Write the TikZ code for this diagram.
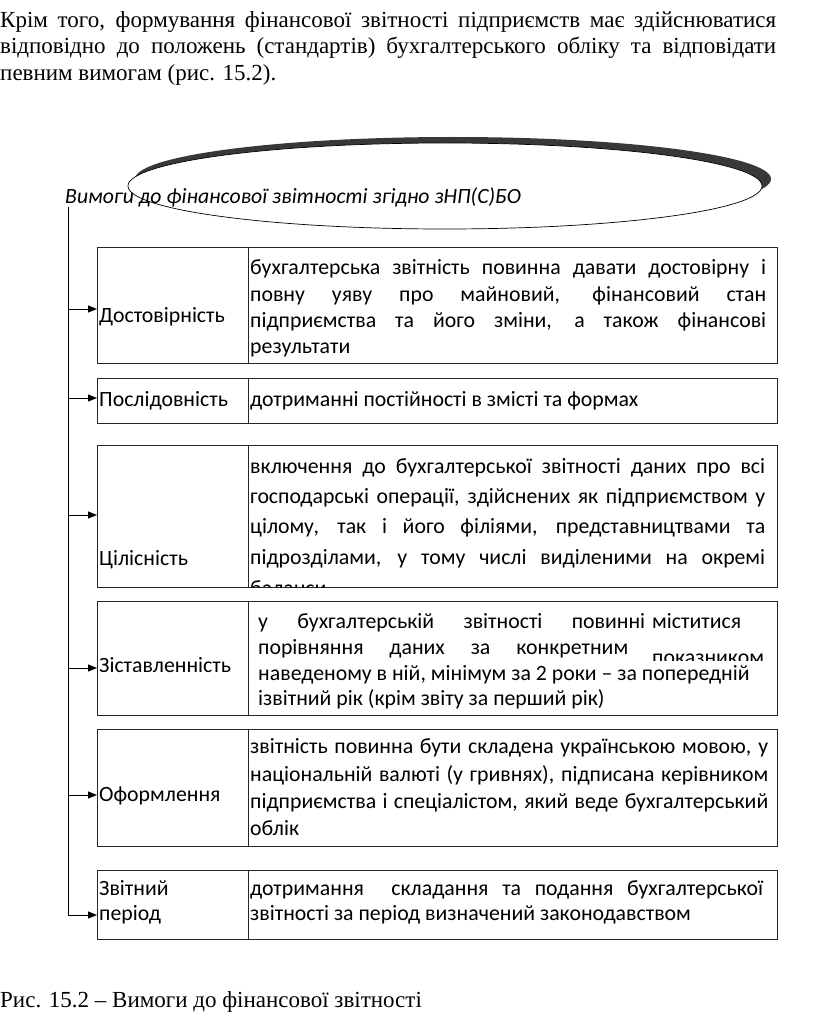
\documentclass[tikz,border=0pt]{standalone}
\usepackage{fontspec}
\setmainfont{Liberation Serif}
\newfontfamily\calfont{Carlito}
\usetikzlibrary{arrows.meta,shapes.geometric}
\newcommand\jline[2]{\makebox[#1][s]{#2}}
\begin{document}
\begin{tikzpicture}[x=1pt,y=-1pt,
  box/.style={draw=black!85,line width=1pt,inner sep=0,anchor=north west},
  lbl/.style={anchor=base west,inner sep=0,font=\calfont\fontsize{21.8}{24}\selectfont},
  para/.style={anchor=base west,inner sep=0,font=\fontsize{23}{26}\selectfont},
  arr/.style={-{Triangle[length=9pt,width=7pt]},line width=1pt},
  spine/.style={line width=1pt}]
\useasboundingbox (0,0) rectangle (816,1019);
% top paragraph
\node[para] (p1) at (0,28) {\jline{776pt}{Крім того, формування фінансової звітності підприємств має здійснюватися}};
\node[para] (p2) at (0,54) {\jline{776pt}{відповідно до положень (стандартів) бухгалтерського обліку та відповідати}};
\node[para] (p3) at (0,81) {певним вимогам (рис. 15.2).};
% ellipse
\fill[black!78] (453,179) ellipse [x radius=318, y radius=42];
\node[draw=black,fill=white,ellipse,line width=0.7pt,minimum width=634,minimum height=86,inner sep=0] (ell) at (445,186) {};
\node[lbl,font=\calfont\itshape\fontsize{21.7}{24}\selectfont] (title) at (65,203) {Вимоги до фінансової звітності згідно зНП(С)БО};
% boxes
\node[box,minimum width=151,minimum height=116] (L1) at (97,247) {};
\node[box,minimum width=529,minimum height=116] (R1) at (248,247) {};
\node[box,minimum width=151,minimum height=45] (L2) at (97,378) {};
\node[box,minimum width=529,minimum height=45] (R2) at (248,378) {};
\node[box,minimum width=151,minimum height=142] (L3) at (97,445) {};
\node[box,minimum width=529,minimum height=142] (R3) at (248,445) {};
\node[box,minimum width=151,minimum height=114] (L4) at (97,601) {};
\node[box,minimum width=529,minimum height=114] (R4) at (248,601) {};
\node[box,minimum width=151,minimum height=117] (L5) at (97,729) {};
\node[box,minimum width=529,minimum height=117] (R5) at (248,729) {};
\node[box,minimum width=151,minimum height=69] (L6) at (97,870) {};
\node[box,minimum width=529,minimum height=69] (R6) at (248,870) {};
% spine and arrows
\coordinate (top) at (68,207);
\coordinate (s1) at (68,309);
\coordinate (s2) at (68,398);
\coordinate (s3) at (68,515);
\coordinate (s4) at (68,668);
\coordinate (s5) at (68,795);
\coordinate (s6) at (68,915);
\draw[spine] (top) -- (s6);
\draw[arr] (s1) -- (s1 -| L1.west);
\draw[arr] (s2) -- (s2 -| L2.west);
\draw[arr] (s3) -- (s3 -| L3.west);
\draw[arr] (s4) -- (s4 -| L4.west);
\draw[arr] (s5) -- (s5 -| L5.west);
\draw[arr] (s6) -- (s6 -| L6.west);
% left labels
\node[lbl] (n1) at (99,322) {Достовірність};
\node[lbl] (n2) at (99,406) {Послідовність};
\node[lbl] (n3) at (99,565) {Цілісність};
\node[lbl] (n4) at (99,672) {Зіставленність};
\node[lbl] (n5) at (99,801) {Оформлення};
\node[lbl] (n6a) at (99,895) {Звітний};
\node[lbl] (n6b) at (99,920) {період};
% row 1
\node[lbl] (r1a) at (250,274) {\jline{516pt}{бухгалтерська звітність повинна давати достовірну і}};
\node[lbl] (r1b) at (250,301) {\jline{516pt}{повну уяву про майновий, фінансовий стан}};
\node[lbl] (r1c) at (250,327) {\jline{516pt}{підприємства та його зміни, а також фінансові}};
\node[lbl] (r1d) at (250,353) {результати};
% row 2
\node[lbl] (r2a) at (250,406) {дотриманні постійності в змісті та формах};
% row 3
\node[lbl] (r3a) at (250,473) {\jline{515pt}{включення до бухгалтерської звітності даних про всі}};
\node[lbl] (r3b) at (250,503) {\jline{515pt}{господарські операції, здійснених як підприємством у}};
\node[lbl] (r3c) at (250,533) {\jline{515pt}{цілому, так і його філіями, представництвами та}};
\node[lbl] (r3d) at (250,564) {\jline{515pt}{підрозділами, у тому числі виділеними на окремі}};
\begin{scope}
\clip (248,445) rectangle (777,587);
\node[lbl] (r3e) at (250,595) {баланси};
\end{scope}
% row 4
\node[lbl] (r4a) at (258,628) {\jline{387pt}{у бухгалтерській звітності повинні}};
\node[lbl] (r4b) at (652,628) {міститися};
\node[lbl] (r4c) at (258,654) {\jline{370pt}{порівняння даних за конкретним}};
\begin{scope}
\clip (640,640) rectangle (777,660.5);
\node[lbl] (r4d) at (652,664) {показником};
\end{scope}
\node[lbl] (r4e) at (258,680) {наведеному в ній, мінімум за 2 роки – за попередній};
\node[lbl] (r4f) at (258,705) {ізвітний рік (крім звіту за перший рік)};
% row 5
\node[lbl] (r5a) at (250,753) {\jline{518pt}{звітність повинна бути складена українською мовою, у}};
\node[lbl] (r5b) at (250,781) {\jline{518pt}{національній валюті (у гривнях), підписана керівником}};
\node[lbl] (r5c) at (250,808) {\jline{518pt}{підприємства і спеціалістом, який веде бухгалтерський}};
\node[lbl] (r5d) at (250,835) {облік};
% row 6
\node[lbl] (r6a) at (250,895) {\jline{513pt}{дотримання\ \ складання та подання бухгалтерської}};
\node[lbl] (r6b) at (250,920) {звітності за період визначений законодавством};
% caption
\node[para] (cap) at (0,1007) {Рис. 15.2 – Вимоги до фінансової звітності};
\end{tikzpicture}
\end{document}
